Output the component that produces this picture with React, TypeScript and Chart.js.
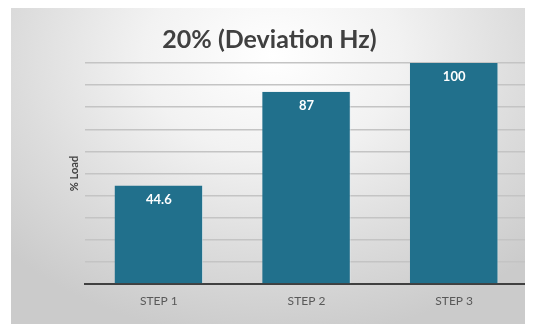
import React, { useEffect, useRef } from "react";
import { Chart, registerables } from "chart.js";

Chart.register(...registerables);

const categories = ["STEP 1", "STEP 2", "STEP 3"];
const loadValues = [44.6, 87, 100];
const titleText = "20% (Deviation Hz)";
const yTitle = "% Load";

const valueLabels = {
  id: "valueLabels",
  afterDatasetsDraw(chart: any) {
    const ctx = chart.ctx;
    const meta = chart.getDatasetMeta(0);
    ctx.save();
    ctx.fillStyle = "#ffffff";
    ctx.font = "bold 13px Lato, 'Open Sans', sans-serif";
    ctx.textAlign = "center";
    ctx.textBaseline = "middle";
    meta.data.forEach((bar: any, i: number) => {
      ctx.fillText(String(loadValues[i]), bar.x, bar.y + 14);
    });
    ctx.restore();
  },
};

export default function App() {
  const ref = useRef<HTMLCanvasElement | null>(null);
  useEffect(() => {
    if (!ref.current) return;
    const chart = new Chart(ref.current, {
      type: "bar",
      data: {
        labels: categories,
        datasets: [
          {
            data: loadValues,
            backgroundColor: "#21708c",
            borderColor: "rgba(220,235,240,0.6)",
            borderWidth: { left: 0, right: 1, top: 0, bottom: 0 } as any,
            barPercentage: 0.6,
            categoryPercentage: 1,
          },
        ],
      },
      options: {
        animation: false,
        responsive: false,
        maintainAspectRatio: false,
        layout: { padding: { left: 0, right: 5, top: 0, bottom: 0 } },
        plugins: {
          legend: { display: false },
          tooltip: { enabled: false },
          title: {
            display: true,
            text: titleText,
            color: "#404040",
            font: { family: "Lato, 'Open Sans', sans-serif", size: 25, weight: "bold" },
            padding: { top: 17, bottom: 8 },
          },
        },
        scales: {
          x: {
            grid: { display: false, drawTicks: false },
            border: { display: true, color: "#404040", width: 2 },
            ticks: {
              color: "#595959",
              font: { family: "Lato, 'Open Sans', sans-serif", size: 12 },
              padding: 10,
            },
            afterFit: (s: any) => {
              s.height = 40;
            },
          },
          y: {
            min: 0,
            max: 100,
            ticks: { display: false, stepSize: 10 },
            grid: { color: "#c4c4c4", lineWidth: 1.5, drawTicks: false },
            border: { display: false },
            title: {
              display: true,
              text: yTitle,
              color: "#404040",
              font: { family: "Lato, 'Open Sans', sans-serif", size: 11, weight: "bold" },
              padding: { top: 57, bottom: 0 },
            },
            afterFit: (s: any) => {
              s.width = 74;
            },
          },
        },
      },
      plugins: [valueLabels],
    });
    return () => chart.destroy();
  }, []);
  return (
    <div
      style={{
        marginLeft: 3,
        width: 522,
        height: 316,
        background:
          "radial-gradient(ellipse 70% 90% at 50% 15%, #ffffff 0%, #f2f2f2 35%, #dcdcdc 70%, #cbcbcb 100%)",
      }}
    >
      <canvas ref={ref} width={522} height={316} style={{ display: "block" }} />
    </div>
  );
}
